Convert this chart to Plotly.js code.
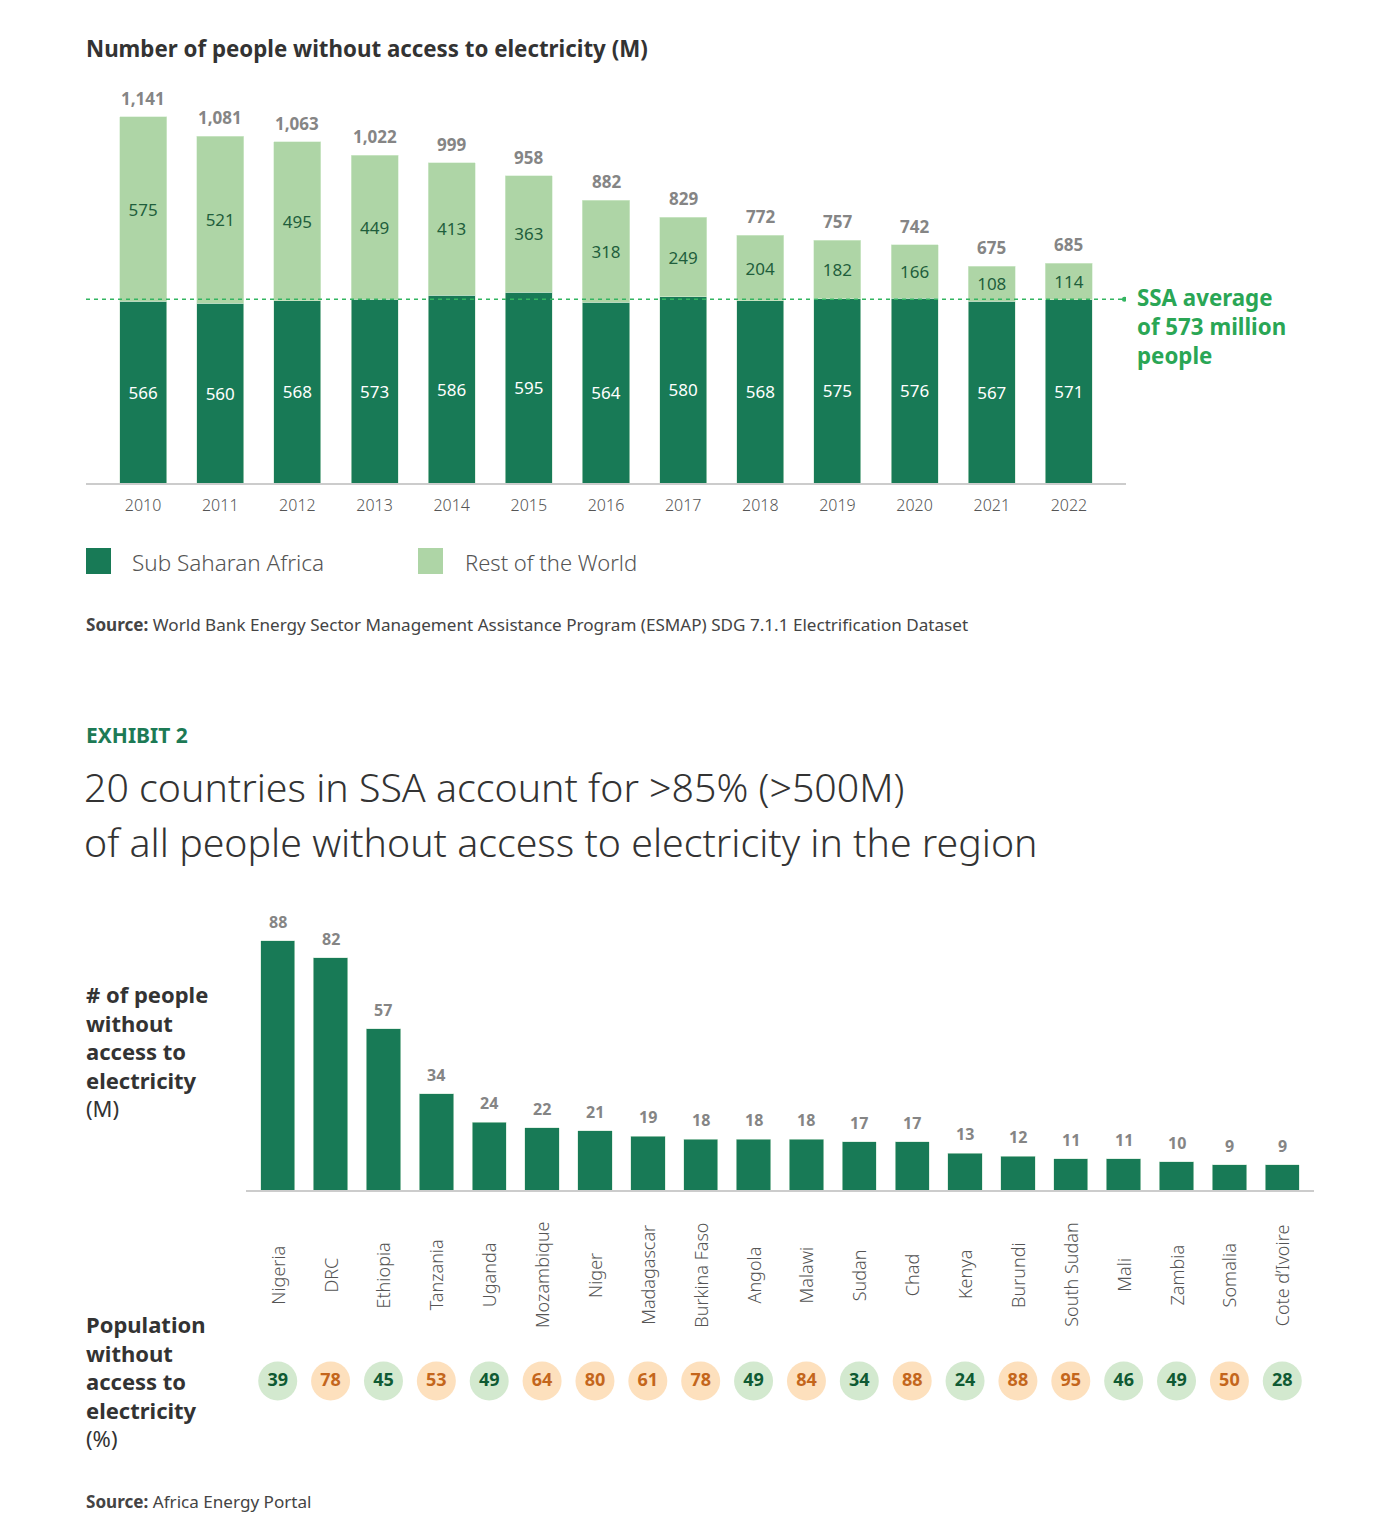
<!DOCTYPE html>
<html>
<head>
<meta charset="utf-8">
<script src="https://cdn.plot.ly/plotly-3.0.1.min.js"></script>
<style>
  html, body { margin: 0; padding: 0; background: #fff; }
  #chart { width: 1400px; height: 1518px; }
</style>
</head>
<body>
<div id="chart"></div>
<script>
// Exhibit 1 data
var years = ['2010', '2011', '2012', '2013', '2014', '2015', '2016', '2017', '2018', '2019', '2020', '2021', '2022'];
var ssa = [566, 560, 568, 573, 586, 595, 564, 580, 568, 575, 576, 567, 571];
var restOfWorld = [575, 521, 495, 449, 413, 363, 318, 249, 204, 182, 166, 108, 114];
var ssaAverage = 573;

// Exhibit 2 data
var countries = ['Nigeria', 'DRC', 'Ethiopia', 'Tanzania', 'Uganda', 'Mozambique', 'Niger', 'Madagascar',
  'Burkina Faso', 'Angola', 'Malawi', 'Sudan', 'Chad', 'Kenya', 'Burundi', 'South Sudan', 'Mali',
  'Zambia', 'Somalia', 'Cote d\u2019Ivoire'];
var peopleWithout = [88, 82, 57, 34, 24, 22, 21, 19, 18, 18, 18, 17, 17, 13, 12, 11, 11, 10, 9, 9];
var pctWithout = [39, 78, 45, 53, 49, 64, 80, 61, 78, 49, 84, 34, 88, 24, 88, 95, 46, 49, 50, 28];

var W = 1400, H = 1518;
var FONT = 'Noto Sans, Open Sans, sans-serif';
var DARK = '#187a56', LIGHT = '#aed5a6', AVG = '#33b561';
function px(x) { return x / W; }
function py(y) { return 1 - y / H; }

var totals = ssa.map(function (v, i) { return v + restOfWorld[i]; });

var data = [
  {
    type: 'bar', name: 'Sub Saharan Africa', x: years, y: ssa, width: 0.61,
    marker: { color: DARK, line: { color: '#cfe6d4', width: 0.6 } },
    text: ssa.map(String), textposition: 'inside', insidetextanchor: 'middle', constraintext: 'none',
    textfont: { family: FONT, size: 17, color: '#ffffff' }, hoverinfo: 'skip'
  },
  {
    type: 'bar', name: 'Rest of the World', x: years, y: restOfWorld, width: 0.61,
    marker: { color: LIGHT, line: { color: '#d6ecd2', width: 0.6 } },
    text: restOfWorld.map(String), textposition: 'inside', insidetextanchor: 'middle', constraintext: 'none',
    textfont: { family: FONT, size: 17, color: '#1f5e3c' }, hoverinfo: 'skip'
  },
  // Exhibit 2 bars
  {
    type: 'bar', x: countries, y: peopleWithout, width: 0.65,
    xaxis: 'x2', yaxis: 'y2',
    marker: { color: DARK, line: { color: '#cfe6d4', width: 0.6 } },
    hoverinfo: 'skip'
  },
  // percentage circles
  {
    type: 'scatter', mode: 'markers+text', x: countries, y: countries.map(function () { return 0.5; }),
    xaxis: 'x2', yaxis: 'y3', cliponaxis: false,
    marker: {
      size: 39,
      color: pctWithout.map(function (v) { return v >= 50 ? '#fde0bd' : '#d3e9cf'; })
    },
    text: pctWithout.map(String), textposition: 'middle center',
    textfont: {
      family: FONT, size: 18, weight: 'bold',
      color: pctWithout.map(function (v) { return v >= 50 ? '#c4661c' : '#0f5a33'; })
    },
    hoverinfo: 'skip'
  }
];

var annotations = [];
function note(text, x, y, opts) {
  var a = {
    xref: 'paper', yref: 'paper', x: px(x), y: py(y), text: text, showarrow: false,
    xanchor: 'left', yanchor: 'middle', align: 'left',
    font: { family: FONT, size: 16, color: '#333' }
  };
  for (var k in opts) a[k] = opts[k];
  annotations.push(a);
}

note('<b>Number of people without access to electricity (M)</b>', 84, 48, { font: { family: FONT, size: 22.3, color: '#333' } });
note('<b>SSA average<br>of 573 million<br>people</b>', 1135, 327, { font: { family: FONT, size: 22.3, color: '#2aa655' } });
note('Sub Saharan Africa', 130, 562, { font: { family: FONT, size: 22.5, color: '#555', weight: 300 } });
note('Rest of the World', 463, 562, { font: { family: FONT, size: 22, color: '#555', weight: 300 } });
note('<b>Source:</b> World Bank Energy Sector Management Assistance Program (ESMAP) SDG 7.1.1 Electrification Dataset', 84, 624, { font: { family: FONT, size: 17.1, color: '#444' } });
note('<b>EXHIBIT 2</b>', 84, 735, { font: { family: FONT, size: 21, color: '#1d7a55' } });
note('20 countries in SSA account for >85% (>500M)', 82, 787, { font: { family: FONT, size: 39.3, color: '#333', weight: 300 } });
note('of all people without access to electricity in the region', 82, 842, { font: { family: FONT, size: 39.3, color: '#333', weight: 300 } });
note('<b># of people<br>without<br>access to<br>electricity</b><br>(M)', 84, 1051, { font: { family: FONT, size: 22, color: '#333' } });
note('<b>Population<br>without<br>access to<br>electricity</b><br>(%)', 84, 1381, { font: { family: FONT, size: 22, color: '#333' } });
note('<b>Source:</b> Africa Energy Portal', 84, 1501, { font: { family: FONT, size: 17.1, color: '#444' } });

// totals above the stacked bars (x given as category index: year strings read as numbers)
years.forEach(function (yr, i) {
  annotations.push({
    xref: 'x', yref: 'y', x: i, y: totals[i], text: '<b>' + totals[i].toLocaleString('en-US') + '</b>',
    showarrow: false, xanchor: 'center', yanchor: 'bottom', yshift: 5,
    font: { family: FONT, size: 17, color: '#858585' }
  });
});

// values above the country bars
countries.forEach(function (c, i) {
  annotations.push({
    xref: 'x2', yref: 'y2', x: i, y: peopleWithout[i], text: '<b>' + peopleWithout[i] + '</b>',
    showarrow: false, xanchor: 'center', yanchor: 'bottom', yshift: 6,
    font: { family: FONT, size: 16, color: '#858585' }
  });
});

// rotated country names, centred under each bar
countries.forEach(function (c, i) {
  annotations.push({
    xref: 'x2', yref: 'paper', x: i, y: py(1275), text: c, showarrow: false, textangle: -90,
    xanchor: 'center', yanchor: 'middle',
    font: { family: FONT, size: 18, color: '#555', weight: 300 }
  });
});

var shapes = [
  // SSA average reference line, on the category axis
  { type: 'line', xref: 'x', yref: 'y', x0: -0.74, x1: 12.72, y0: ssaAverage, y1: ssaAverage,
    line: { color: AVG, width: 1.6, dash: '4px,4px' } },
  { type: 'circle', xref: 'x', yref: 'y', xsizemode: 'pixel', ysizemode: 'pixel',
    xanchor: 12.72, yanchor: ssaAverage, x0: -2.5, x1: 2.5, y0: -2.5, y1: 2.5,
    fillcolor: AVG, line: { width: 0 } },
  // legend swatches
  { type: 'rect', xref: 'paper', yref: 'paper', x0: px(86), x1: px(111), y0: py(548), y1: py(574), fillcolor: DARK, line: { width: 0 } },
  { type: 'rect', xref: 'paper', yref: 'paper', x0: px(418), x1: px(443), y0: py(548), y1: py(574), fillcolor: LIGHT, line: { width: 0 } }
];

var layout = {
  width: W, height: H,
  margin: { l: 0, r: 0, t: 0, b: 0 },
  paper_bgcolor: '#fff', plot_bgcolor: '#fff',
  showlegend: false,
  barmode: 'stack',
  font: { family: FONT },
  xaxis: {
    type: 'category',
    domain: [px(86), px(1126)], range: [-0.74, 12.74], anchor: 'y',
    showgrid: false, zeroline: false, showline: true, linecolor: '#cccccc', linewidth: 1.5,
    ticks: '', ticklabelstandoff: 7,
    tickfont: { family: FONT, size: 16, color: '#555', weight: 300 }, fixedrange: true
  },
  yaxis: {
    domain: [py(483), py(82)], range: [0, 1250], anchor: 'x',
    visible: false, showgrid: false, zeroline: false, fixedrange: true
  },
  xaxis2: {
    type: 'category',
    domain: [px(246), px(1314)], range: [-0.6, 19.6], anchor: 'y2',
    showgrid: false, zeroline: false, showline: true, linecolor: '#cccccc', linewidth: 1.5,
    ticks: '', showticklabels: false, fixedrange: true
  },
  yaxis2: {
    domain: [py(1190), py(907)], range: [0, 100], anchor: 'x2',
    visible: false, showgrid: false, zeroline: false, fixedrange: true
  },
  yaxis3: {
    domain: [py(1401), py(1361)], range: [0, 1], anchor: 'x2',
    visible: false, showgrid: false, zeroline: false, fixedrange: true
  },
  annotations: annotations,
  shapes: shapes
};

var config = { displayModeBar: false, staticPlot: true };

Plotly.newPlot('chart', data, layout, config);
</script>
</body>
</html>
